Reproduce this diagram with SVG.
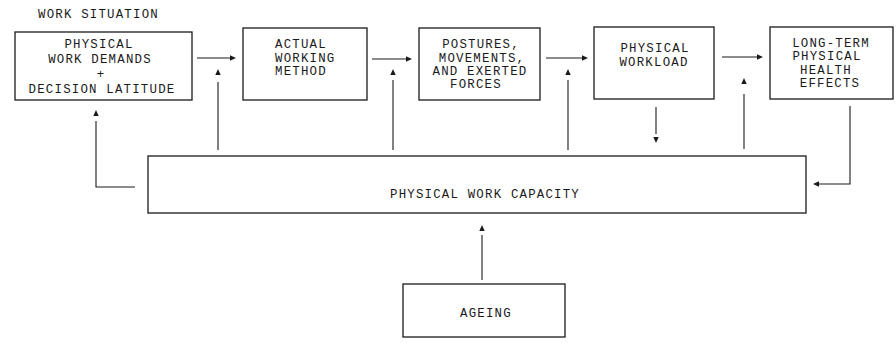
<svg xmlns="http://www.w3.org/2000/svg" xmlns:xlink="http://www.w3.org/1999/xlink" width="896" height="344" viewBox="0 0 896 344">
<style>
  .box { fill: #ffffff; stroke: #1a1a1a; stroke-width: 1.3; }
  .t { font-family: "Liberation Mono", "Courier New", monospace; font-size: 12.4px; letter-spacing: 1.2px; fill: #1a1a1a; }
  .m { text-anchor: middle; }
  .ln { stroke: #1a1a1a; stroke-width: 1.1; fill: none; }
  .ah { fill: #1a1a1a; }
</style>
<defs>
  <path id="ah" d="M0,0 L-6,-2.7 L-6,2.7 Z"/>
</defs>
<rect width="896" height="344" fill="#ffffff"/>

<text class="t" x="38" y="18">WORK SITUATION</text>

<g id="node-demands">
  <rect class="box" x="15" y="32" width="177" height="68"/>
  <text class="t m" x="99" y="48">PHYSICAL</text>
  <text class="t m" x="100" y="63">WORK DEMANDS</text>
  <text class="t m" x="101" y="78">+</text>
  <text class="t m" x="102" y="93">DECISION LATITUDE</text>
</g>

<g id="node-method">
  <rect class="box" x="243" y="28" width="124" height="72"/>
  <text class="t" x="275" y="48">ACTUAL</text>
  <text class="t" x="275" y="62">WORKING</text>
  <text class="t" x="275" y="75">METHOD</text>
</g>

<g id="node-postures">
  <rect class="box" x="419" y="28" width="121" height="72"/>
  <text class="t m" x="481" y="48">POSTURES,</text>
  <text class="t m" x="482" y="62">MOVEMENTS,</text>
  <text class="t m" x="480" y="75">AND EXERTED</text>
  <text class="t m" x="476" y="88">FORCES</text>
</g>

<g id="node-workload">
  <rect class="box" x="594" y="27" width="120" height="72"/>
  <text class="t m" x="655" y="52">PHYSICAL</text>
  <text class="t m" x="654" y="66">WORKLOAD</text>
</g>

<g id="node-health">
  <rect class="box" x="770" y="27" width="123" height="72"/>
  <text class="t m" x="831" y="47">LONG-TERM</text>
  <text class="t m" x="827" y="60">PHYSICAL</text>
  <text class="t m" x="826" y="74">HEALTH</text>
  <text class="t m" x="830" y="87">EFFECTS</text>
</g>

<g id="node-capacity">
  <rect class="box" x="148" y="156" width="658" height="57"/>
  <text class="t" x="390" y="198">PHYSICAL WORK CAPACITY</text>
</g>

<g id="node-ageing">
  <rect class="box" x="403" y="284" width="162" height="53"/>
  <text class="t m" x="486" y="317">AGEING</text>
</g>

<g id="connectors">
  <line class="ln" x1="197" y1="58" x2="231" y2="58"/>
  <use class="ah" xlink:href="#ah" transform="translate(236,58)"/>
  <line class="ln" x1="372" y1="59" x2="407" y2="59"/>
  <use class="ah" xlink:href="#ah" transform="translate(412,59)"/>
  <line class="ln" x1="546" y1="58" x2="583" y2="58"/>
  <use class="ah" xlink:href="#ah" transform="translate(588,58)"/>
  <line class="ln" x1="722" y1="57" x2="758" y2="57"/>
  <use class="ah" xlink:href="#ah" transform="translate(763,57)"/>

  <line class="ln" x1="218" y1="150" x2="218" y2="82"/>
  <use class="ah" xlink:href="#ah" transform="translate(218,69) rotate(-90)"/>
  <line class="ln" x1="393" y1="150" x2="393" y2="80"/>
  <use class="ah" xlink:href="#ah" transform="translate(393,69) rotate(-90)"/>
  <line class="ln" x1="568" y1="150" x2="568" y2="80"/>
  <use class="ah" xlink:href="#ah" transform="translate(568,69) rotate(-90)"/>
  <line class="ln" x1="744" y1="149" x2="744" y2="94"/>
  <use class="ah" xlink:href="#ah" transform="translate(744,78) rotate(-90)"/>

  <line class="ln" x1="656" y1="107" x2="656" y2="134"/>
  <use class="ah" xlink:href="#ah" transform="translate(656,143) rotate(90)"/>

  <polyline class="ln" points="135,187 96,187 96,121"/>
  <use class="ah" xlink:href="#ah" transform="translate(96,110) rotate(-90)"/>

  <polyline class="ln" points="850,106 850,184 819,184"/>
  <use class="ah" xlink:href="#ah" transform="translate(813,184) rotate(180)"/>

  <line class="ln" x1="482" y1="280" x2="482" y2="235"/>
  <use class="ah" xlink:href="#ah" transform="translate(482,225) rotate(-90)"/>
</g>
</svg>
